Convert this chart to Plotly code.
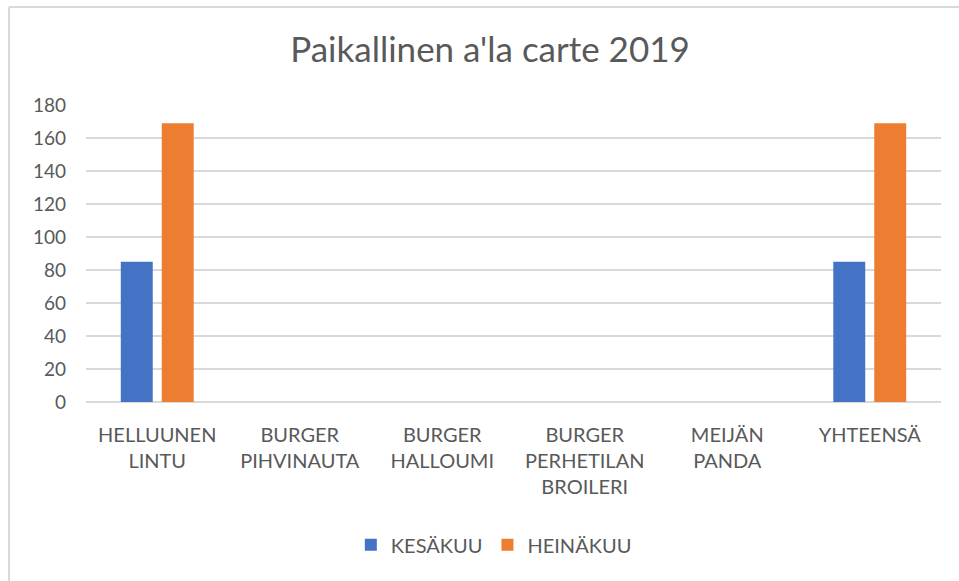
import plotly.graph_objects as go

categories = ["HELLUUNEN<br>LINTU", "BURGER<br>PIHVINAUTA", "BURGER<br>HALLOUMI",
              "BURGER<br>PERHETILAN<br>BROILERI", "MEIJÄN<br>PANDA", "YHTEENSÄ"]
kesakuu = [85, 0, 0, 0, 0, 85]
heinakuu = [169, 0, 0, 0, 0, 169]
y_ticks = [0, 20, 40, 60, 80, 100, 120, 140, 160, 180]

TEXT = "#595959"
GRID = "#d9d9d9"
FONT = "Lato, 'Open Sans', sans-serif"

fig = go.Figure()
fig.add_trace(go.Bar(x=categories, y=kesakuu, name="KESÄKUU",
                     marker=dict(color="#4472C4", line=dict(width=0))))
fig.add_trace(go.Bar(x=categories, y=heinakuu, name="HEINÄKUU",
                     marker=dict(color="#ED7D31", line=dict(width=0))))

fig.update_layout(
    width=959, height=581,
    margin=dict(l=86, r=18, t=105, b=179),
    paper_bgcolor="white", plot_bgcolor="white",
    font=dict(family=FONT, color=TEXT, size=20),
    title=dict(text="Paikallinen a'la carte 2019", x=0.511, xanchor="center",
               y=1 - 50 / 581, yanchor="middle", yref="container",
               font=dict(size=35, color=TEXT, family=FONT)),
    barmode="group", bargap=0.425, bargroupgap=0.22,
    showlegend=True,
    legend=dict(orientation="h", x=0.477, xanchor="center", y=-0.481, yanchor="middle",
                font=dict(size=20, color=TEXT), itemwidth=30),
    xaxis=dict(showgrid=False, showline=False, ticks="", ticklabelstandoff=19,
               tickfont=dict(size=20, color=TEXT)),
    yaxis=dict(range=[0, 180], tickvals=y_ticks, showgrid=True, gridcolor=GRID, gridwidth=2,
               zeroline=True, zerolinecolor=GRID, zerolinewidth=2, showline=False,
               ticks="", ticklabelstandoff=19, tickfont=dict(size=19, color=TEXT)),
)

# chart frame (only top and left edges are visible in the reference)
fig.add_shape(type="line", xref="paper", yref="paper", x0=(9 - 86) / 855, x1=(970 - 86) / 855,
              y0=(402 - 7) / 297, y1=(402 - 7) / 297, line=dict(color=GRID, width=2))
fig.add_shape(type="line", xref="paper", yref="paper", x0=(9 - 86) / 855, x1=(9 - 86) / 855,
              y0=(402 - 7) / 297, y1=(402 - 600) / 297, line=dict(color=GRID, width=2))

fig.write_html("out.html", config={"displayModeBar": False},
               post_script="document.body.style.margin = '0';")
